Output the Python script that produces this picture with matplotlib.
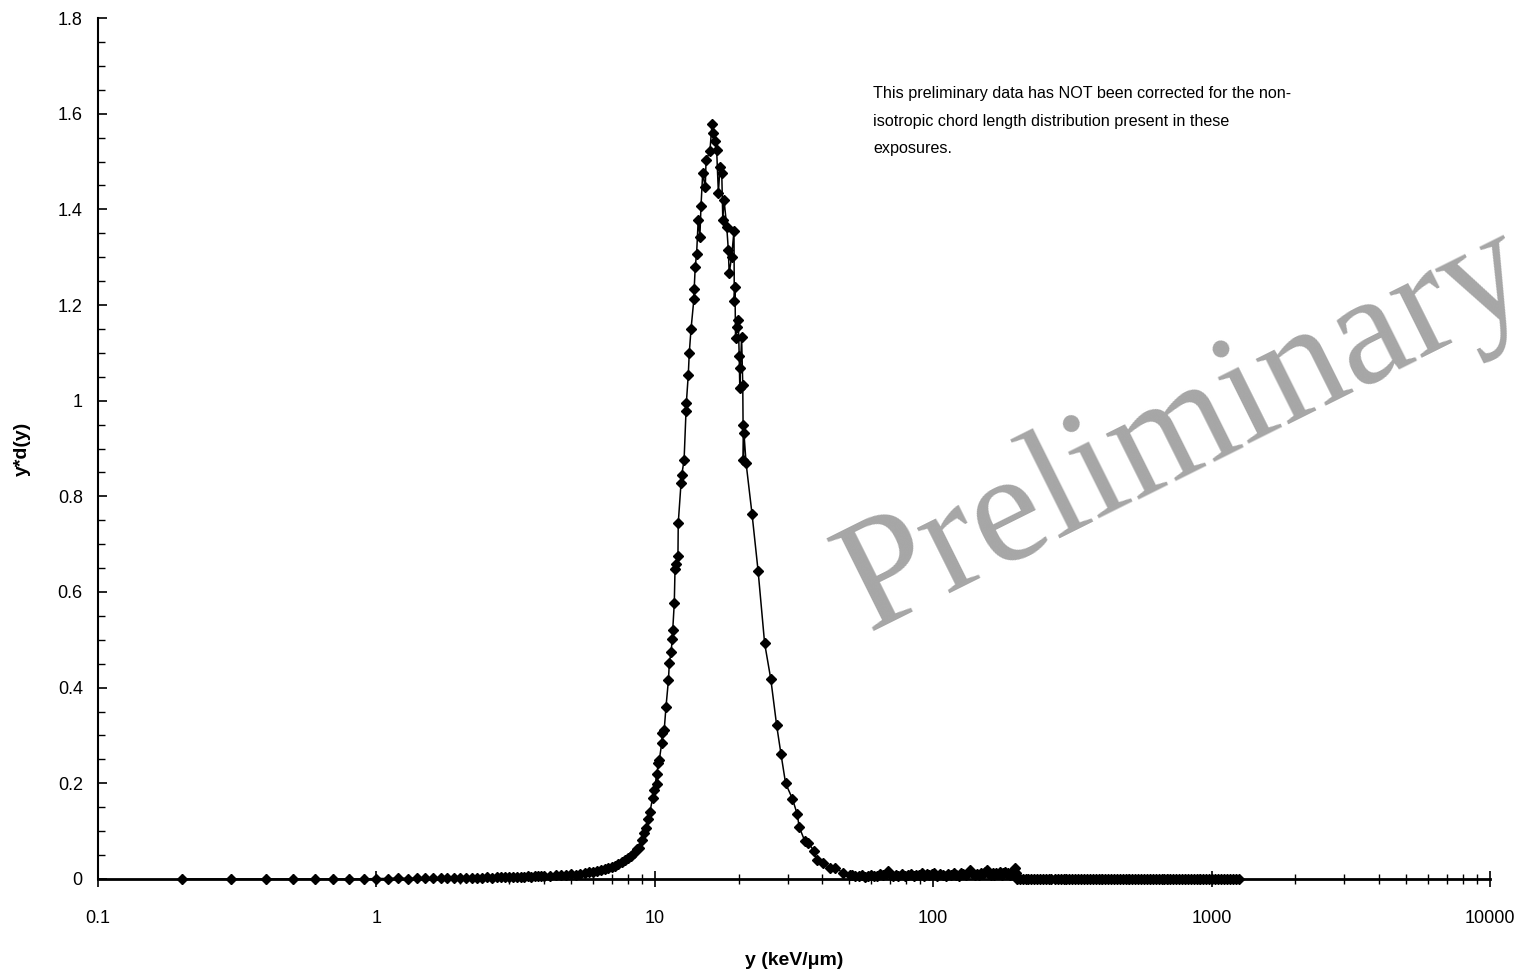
import matplotlib
matplotlib.use("Agg")
import matplotlib.pyplot as plt
from matplotlib.ticker import LogLocator, MultipleLocator, FuncFormatter, NullFormatter

plt.rcParams['font.family'] = ['Liberation Sans', 'DejaVu Sans']

# lineal energy y (keV/um) and y*d(y)
y_low = [0.2, 0.3, 0.4, 0.5, 0.6, 0.7, 0.8, 0.9,
         1.0, 1.1, 1.2, 1.3, 1.4, 1.5, 1.6, 1.7, 1.8, 1.9, 2.0,
         2.1, 2.2, 2.3, 2.4, 2.5, 2.6, 2.7, 2.8, 2.9, 3.0,
         3.1, 3.2, 3.3, 3.4, 3.5, 3.6, 3.7, 3.8, 3.9, 4.0,
         4.2, 4.4, 4.6, 4.8, 5.0, 5.2, 5.4, 5.6, 5.8, 6.0,
         6.2, 6.4, 6.6, 6.8, 7.0, 7.2, 7.4, 7.6, 7.8, 8.0,
         8.2, 8.4, 8.6, 8.78, 8.97, 9.14, 9.29, 9.42, 9.61, 9.82, 9.96]
yd_low = [0, 0, 0, 0, 0, 0, 0, 0,
          0.001, 0.001, 0.002, 0.001, 0.002, 0.002, 0.002, 0.002, 0.002, 0.003, 0.002,
          0.003, 0.003, 0.003, 0.003, 0.004, 0.003, 0.004, 0.004, 0.004, 0.004,
          0.005, 0.004, 0.005, 0.005, 0.006, 0.005, 0.006, 0.006, 0.006, 0.007,
          0.006, 0.008, 0.009, 0.008, 0.010, 0.009, 0.011, 0.012, 0.014, 0.014,
          0.017, 0.018, 0.021, 0.023, 0.026, 0.028, 0.031, 0.036, 0.040, 0.043,
          0.048, 0.055, 0.062, 0.064, 0.082, 0.096, 0.106, 0.125, 0.141, 0.169, 0.185]

y_peak = [10.16, 10.21, 10.24, 10.38, 10.59, 10.64, 10.81, 10.97, 11.19, 11.28,
          11.44, 11.56, 11.6, 11.75, 11.82, 11.94, 12.11, 12.14, 12.42, 12.5,
          12.74, 12.95, 12.98, 13.19, 13.3, 13.49, 13.82, 13.85, 13.97, 14.13,
          14.32, 14.52, 14.65, 14.86, 15.18, 15.28, 15.77, 16.05, 16.24, 16.45,
          16.68, 16.92, 17.15, 17.4, 17.55, 17.73, 18.13, 18.37, 18.5, 18.88,
          19.25, 19.3, 19.41, 19.5, 19.7, 19.95, 20.1, 20.2, 20.3, 20.5,
          20.7, 20.75, 20.8, 20.9, 21.28, 22.35, 23.5, 24.8, 26.1, 27.4,
          28.4, 29.5, 31.2, 32.5, 33.0, 34.6, 35.6, 37.3, 38.1, 40.3,
          42.6, 44.4, 47.5, 50.2]
yd_peak = [0.219, 0.198, 0.242, 0.249, 0.284, 0.305, 0.312, 0.360, 0.415, 0.452,
           0.475, 0.502, 0.521, 0.578, 0.648, 0.658, 0.675, 0.744, 0.827, 0.845,
           0.876, 0.978, 0.995, 1.054, 1.100, 1.149, 1.213, 1.233, 1.280, 1.307,
           1.378, 1.343, 1.406, 1.475, 1.446, 1.503, 1.521, 1.578, 1.559, 1.542,
           1.524, 1.434, 1.489, 1.475, 1.378, 1.420, 1.364, 1.315, 1.266, 1.301,
           1.355, 1.209, 1.238, 1.130, 1.155, 1.169, 1.093, 1.026, 1.068, 1.133,
           1.033, 0.949, 0.876, 0.933, 0.869, 0.763, 0.644, 0.493, 0.418, 0.321,
           0.261, 0.200, 0.168, 0.135, 0.109, 0.079, 0.075, 0.059, 0.040, 0.033,
           0.022, 0.024, 0.0125, 0.008]

y_tail = [51, 52.5, 54, 55.5, 57, 58.5, 60, 61.5, 63, 64.5, 66, 67.5, 69, 70.5, 72, 73.5, 75,
          77, 79, 81, 83, 85, 87, 89, 91, 93, 95, 97, 99,
          101,
          103.5, 106, 108.5, 111, 113.5, 116, 118.5, 121, 123.5, 126, 128.5, 131, 133.5,
          136, 138.5, 141, 143.5, 146, 148.5, 151, 153.5, 156, 158.5, 161, 163.5, 166,
          168.5, 171, 173.5, 176, 178.5, 181, 183.5, 186, 188.5, 191, 193.5, 196, 198.5]
yd_tail = [0.009, 0.007, 0.006, 0.008, 0.005, 0.007, 0.009, 0.006, 0.007, 0.010,
           0.008, 0.011, 0.016, 0.009, 0.007, 0.009, 0.006,
           0.010, 0.007, 0.008, 0.011, 0.006, 0.009, 0.008, 0.012, 0.007, 0.010,
           0.008, 0.011,
           0.013,
           0.007, 0.010, 0.008, 0.006, 0.011, 0.008, 0.012, 0.009, 0.007, 0.012,
           0.010, 0.008, 0.013, 0.018, 0.010, 0.008, 0.011, 0.009, 0.013, 0.010,
           0.015, 0.019, 0.011, 0.009, 0.013, 0.008, 0.012, 0.010, 0.014, 0.009,
           0.012, 0.015, 0.010, 0.013, 0.009, 0.012, 0.016, 0.024, 0.012]

y_high = [200, 205, 210, 215, 220, 225, 230, 236, 242, 248, 254, 260, 266, 273, 280, 287,
          294, 301, 308, 316, 324, 332, 340, 348, 357, 366, 375, 384, 394, 404, 414, 424,
          435, 446, 457, 468, 480, 492, 504, 517, 530, 543, 556, 570, 584, 599, 614, 629,
          645, 661, 677, 694, 711, 729, 747, 766, 785, 804, 824, 845, 866, 888, 910, 933,
          956, 980, 1004, 1029, 1055, 1081, 1108, 1136, 1164, 1193, 1222, 1250]
yd_high = [0, 0, 0, 0, 0, 0, 0, 0, 0, 0, 0, 0, 0, 0, 0, 0,
           0, 0, 0, 0, 0, 0, 0, 0, 0, 0, 0, 0, 0, 0, 0, 0,
           0, 0, 0, 0, 0, 0, 0, 0, 0, 0, 0, 0, 0, 0, 0, 0,
           0, 0, 0, 0, 0, 0, 0, 0, 0, 0, 0, 0, 0, 0, 0, 0,
           0, 0, 0, 0, 0, 0, 0, 0, 0, 0, 0, 0]

y_all = y_low + y_peak + y_tail + y_high
yd_all = yd_low + yd_peak + yd_tail + yd_high

fig = plt.figure(figsize=(15.25, 9.69), dpi=100)
ax = fig.add_axes([0.0643, 0.0929, 0.9127, 0.8885])

# watermark behind everything
fig.text(868 / 1525, 1 - 632 / 969, 'Preliminary', family='Liberation Serif',
         fontsize=114, color='#a6a6a6', rotation=26.5, rotation_mode='anchor',
         ha='left', va='baseline', zorder=0)
ax.patch.set_alpha(0)

ax.plot(y_all, yd_all, color='black', lw=1.1, marker='D', markersize=5,
        markerfacecolor='black', markeredgecolor='black', clip_on=False, zorder=3)

ax.set_xscale('log')
ax.set_xlim(0.1, 10000)
ax.set_ylim(0, 1.8)

ax.xaxis.set_major_locator(LogLocator(base=10, numticks=10))
ax.xaxis.set_minor_locator(LogLocator(base=10, subs=range(2, 10), numticks=20))
ax.xaxis.set_major_formatter(FuncFormatter(lambda v, p: '%g' % v))
ax.xaxis.set_minor_formatter(NullFormatter())
ax.yaxis.set_major_locator(MultipleLocator(0.2))
ax.yaxis.set_minor_locator(MultipleLocator(0.05))
ax.yaxis.set_major_formatter(FuncFormatter(lambda v, p: '%g' % round(v, 2)))

for s in ['top', 'right']:
    ax.spines[s].set_visible(False)
ax.spines['left'].set_linewidth(1.5)
ax.spines['bottom'].set_linewidth(2.0)

ax.tick_params(axis='x', which='major', direction='inout', length=11, width=1.2,
               labelsize=13, pad=17)
ax.tick_params(axis='x', which='minor', direction='inout', length=7, width=1.0)
ax.tick_params(axis='y', which='major', direction='in', length=6.5, width=1.2,
               labelsize=13, pad=11)
ax.tick_params(axis='y', which='minor', direction='in', length=4.7, width=1.0)

ax.set_xlabel('y (keV/\u03bcm)', fontsize=14, fontweight='bold')
ax.set_ylabel('y*d(y)', fontsize=14, fontweight='bold')
ax.xaxis.set_label_coords(0.5, -0.085)
ax.yaxis.set_label_coords(-0.048, 0.5)

fig.text(873 / 1525, 1 - 86 / 969,
         'This preliminary data has NOT been corrected for the non-\n'
         'isotropic chord length distribution present in these\n'
         'exposures.', fontsize=11.6, ha='left', va='top', linespacing=2.05)

fig.savefig('out.png', dpi=100)
